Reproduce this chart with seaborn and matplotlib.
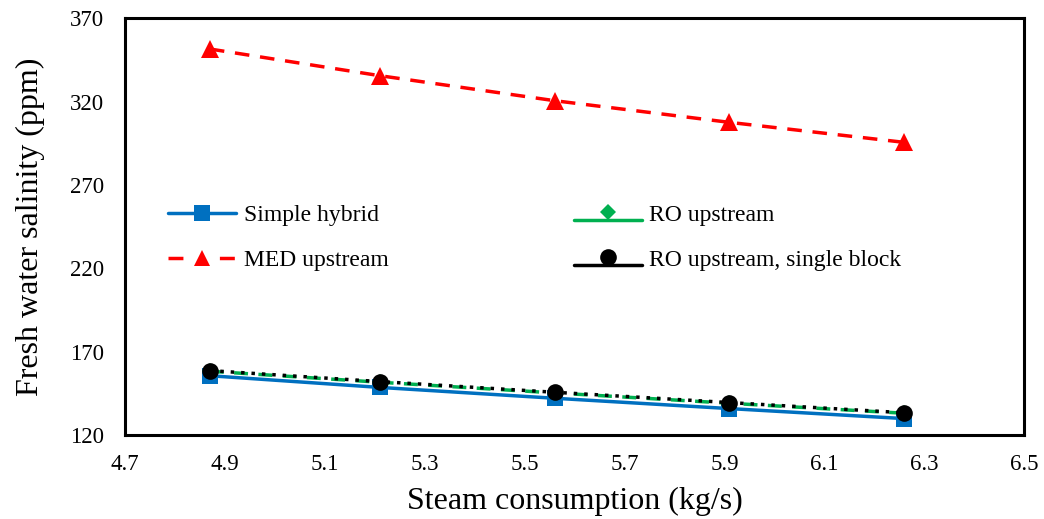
import matplotlib
matplotlib.use("Agg")
import matplotlib.pyplot as plt
from matplotlib.lines import Line2D
from matplotlib.legend_handler import HandlerBase
import seaborn as sns
import pandas as pd

steam = [4.87, 5.21, 5.56, 5.91, 6.26]
simple_hybrid = [155.5, 148.5, 142.0, 135.8, 129.8]
med_upstream = [351.5, 335.5, 320.5, 307.5, 295.5]
ro_upstream = [158.2, 151.6, 145.2, 139.0, 133.0]
ro_single = [158.6, 152.0, 145.6, 139.4, 133.3]
series_names = ["Simple hybrid", "MED upstream", "RO upstream", "RO upstream, single block"]

x_ticks = [4.7, 4.9, 5.1, 5.3, 5.5, 5.7, 5.9, 6.1, 6.3, 6.5]
y_ticks = [120, 170, 220, 270, 320, 370]

sns.set_theme(style="white")
plt.rcParams['font.family'] = ['Liberation Serif', 'DejaVu Serif']
plt.rcParams['mathtext.fontset'] = 'stix'

fig, ax = plt.subplots(figsize=(10.44, 5.19), dpi=100)
fig.subplots_adjust(left=0.1197, right=0.981, top=0.965, bottom=0.162)

styles = [
    dict(color="#0070C0", linestyle="-", marker="s", markersize=12, linewidth=2.5),
    dict(color="#FF0000", linestyle=(0, (4.2, 3.1)), marker="^", markersize=13, linewidth=2.5),
    dict(color="#00B050", linestyle=(0, (4, 3)), marker="D", markersize=8, linewidth=2.5),
    dict(color="black", linestyle=(0, (1, 2)), marker="o", markersize=12, linewidth=2.5),
]
values = [simple_hybrid, med_upstream, ro_upstream, ro_single]

for name, vals, style in zip(series_names, values, styles):
    df = pd.DataFrame({"x": steam, "y": vals})
    sns.lineplot(data=df, x="x", y="y", ax=ax, markeredgewidth=0, legend=False, **style)

ax.set_xlim(4.7, 6.5)
ax.set_ylim(120, 370)
ax.set_xticks(x_ticks)
ax.set_yticks(y_ticks)
ax.set_xticklabels([f"{v:.1f}" for v in x_ticks])
ax.set_yticklabels([str(v) for v in y_ticks])
ax.tick_params(axis="x", direction="inout", length=10, width=1.2, labelsize=16.5, colors="black", pad=9)
ax.tick_params(axis="y", direction="out", length=5, width=1.2, labelsize=16.5, colors="black", pad=10)
for sp in ax.spines.values():
    sp.set_color("black")
    sp.set_linewidth(2.2)

ax.set_xlabel("Steam consumption (kg/s)", fontsize=23, color="black", labelpad=8)
ax.set_ylabel("Fresh water salinity (ppm)", fontsize=23, color="black", labelpad=18)


class RaisedMarkerHandler(HandlerBase):
    def create_artists(self, legend, orig_handle, xdescent, ydescent,
                       width, height, fontsize, trans):
        yc = height / 2.0 - ydescent
        line = Line2D([-xdescent, width - xdescent], [yc - 0.32 * fontsize] * 2,
                      color=orig_handle.get_color(), linewidth=orig_handle.get_linewidth(),
                      linestyle="-", transform=trans)
        mk = Line2D([(width - 2 * xdescent) / 2.0], [yc + 0.05 * fontsize],
                    color=orig_handle.get_color(), marker=orig_handle.get_marker(),
                    markersize=orig_handle.get_markersize(), markeredgewidth=0,
                    linestyle="none", transform=trans)
        return [line, mk]


h_simple = Line2D([], [], color="#0070C0", linestyle="-", marker="s", markersize=11,
                  linewidth=2.5, markeredgewidth=0)
h_med = Line2D([], [], color="#FF0000", linestyle=(0, (4.3, 10.5)), marker="^", markersize=12,
               linewidth=2.5, markeredgewidth=0)
h_ro = Line2D([], [], color="#00B050", linestyle="-", marker="D", markersize=8,
              linewidth=2.5, markeredgewidth=0)
h_single = Line2D([], [], color="black", linestyle="-", marker="o", markersize=12,
                  linewidth=2.5, markeredgewidth=0)

leg = ax.legend([h_simple, h_med, h_ro, h_single], series_names,
                ncol=2, loc="upper left", bbox_to_anchor=(0.0478, 0.553),
                frameon=False, fontsize=17, handlelength=2.9, handletextpad=0.3,
                labelspacing=1.0, columnspacing=7.85, borderpad=0, borderaxespad=0,
                handler_map={h_ro: RaisedMarkerHandler(), h_single: RaisedMarkerHandler()})
for t in leg.get_texts():
    t.set_color("black")

fig.savefig("out.png", dpi=100)
